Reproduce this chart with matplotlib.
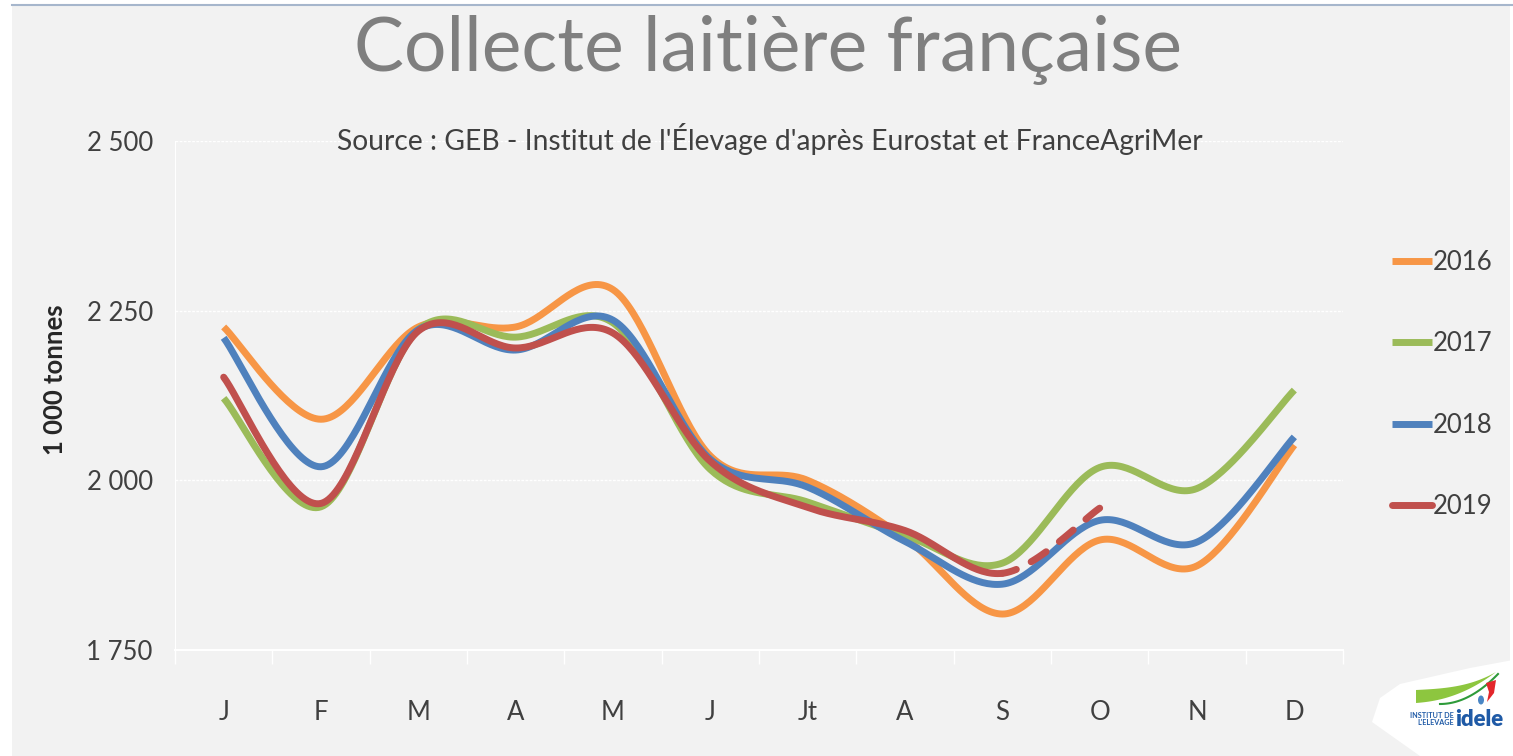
import numpy as np
import matplotlib
matplotlib.use("Agg")
import matplotlib.pyplot as plt
from matplotlib.patches import Rectangle, Polygon, Ellipse

# ---- data ----
months = ["J", "F", "M", "A", "M", "J", "Jt", "A", "S", "O", "N", "D"]
y2016 = [2226, 2090, 2226, 2226, 2281, 2036, 2000, 1915, 1803, 1912, 1874, 2052]
y2017 = [2121, 1961, 2222, 2211, 2232, 2016, 1968, 1919, 1878, 2019, 1988, 2133]
y2018 = [2210, 2020, 2222, 2192, 2236, 2031, 1990, 1910, 1847, 1941, 1909, 2064]
y2019 = [2152, 1966, 2220, 2195, 2217, 2028, 1960, 1926, 1863, 1959]
yticks = [1750, 2000, 2250, 2500]
ytick_labels = ["1 750", "2 000", "2 250", "2 500"]

colors = {"2016": "#F79646", "2017": "#9BBB59", "2018": "#4F81BD", "2019": "#C0504D"}
BG = "#F2F2F2"
W, H = 1513, 756


def smooth(xs, ys, n=40):
    """Catmull-Rom spline (Excel-style smoothed line)."""
    xs = np.asarray(xs, float)
    ys = np.asarray(ys, float)
    px, py = [], []
    for i in range(len(xs) - 1):
        p0 = (xs[i - 1] if i > 0 else xs[i], ys[i - 1] if i > 0 else ys[i])
        p1 = (xs[i], ys[i])
        p2 = (xs[i + 1], ys[i + 1])
        p3 = (xs[i + 2], ys[i + 2]) if i + 2 < len(xs) else p2
        c1 = (p1[0] + (p2[0] - p0[0]) / 6, p1[1] + (p2[1] - p0[1]) / 6)
        c2 = (p2[0] - (p3[0] - p1[0]) / 6, p2[1] - (p3[1] - p1[1]) / 6)
        t = np.linspace(0, 1, n)
        bx = (1 - t) ** 3 * p1[0] + 3 * (1 - t) ** 2 * t * c1[0] + 3 * (1 - t) * t ** 2 * c2[0] + t ** 3 * p2[0]
        by = (1 - t) ** 3 * p1[1] + 3 * (1 - t) ** 2 * t * c1[1] + 3 * (1 - t) * t ** 2 * c2[1] + t ** 3 * p2[1]
        if i > 0:
            bx, by = bx[1:], by[1:]
        px.append(bx)
        py.append(by)
    return np.concatenate(px), np.concatenate(py)


def fx(px):
    return px / W


def fy(py):
    return 1 - py / H


plt.rcParams["font.family"] = ["Lato", "DejaVu Sans"]
fig = plt.figure(figsize=(15.13, 7.56), dpi=100)
fig.patch.set_facecolor("white")
fig.patches.append(Rectangle((fx(12), 0), fx(1510 - 12), 1 - 6 / H,
                             transform=fig.transFigure, facecolor=BG, edgecolor="none", zorder=-10))
fig.lines.append(plt.Line2D([fx(12), 1], [fy(5), fy(5)], transform=fig.transFigure,
                            color="#A6B6CC", lw=1.5))

ax = fig.add_axes([fx(175), fy(650), fx(1343 - 175), (650 - 141) / H])
ax.set_facecolor(BG)
ax.patch.set_alpha(0)

x = np.arange(len(months))
lw = 5
for name, ys in [("2016", y2016), ("2017", y2017), ("2018", y2018)]:
    sx, sy = smooth(x[:len(ys)], ys)
    ax.plot(sx, sy, color=colors[name], lw=lw, solid_capstyle="butt", label=name, zorder=3)

sx, sy = smooth(x[:len(y2019)], y2019)
cut = (len(y2019) - 2) * 39
ax.plot(sx[:cut + 1], sy[:cut + 1], color=colors["2019"], lw=lw, solid_capstyle="round", zorder=4, label="2019")
ax.plot(sx[cut:], sy[cut:], color=colors["2019"], lw=lw, dash_capstyle="round",
        linestyle=(0.5, (2.6, 2.4)), zorder=4)

ax.set_xlim(-0.5, 11.5)
ax.set_ylim(1750, 2500)
ax.set_yticks(yticks)
ax.set_yticklabels(ytick_labels)
ax.set_xticks(x)
ax.set_xticklabels(months)
ax.set_xticks(np.arange(-0.5, 12, 1), minor=True)
ax.tick_params(axis="x", which="major", length=0, pad=36, labelsize=18.5, labelcolor="#404040")
ax.tick_params(axis="x", which="minor", length=10, color="white", width=1)
ax.tick_params(axis="y", length=0, pad=16, labelsize=18.5, labelcolor="#404040")
for yv in yticks[1:]:
    ax.axhline(yv, color="white", lw=1, linestyle=(0, (2, 1)), zorder=1)
for s in ["top", "right"]:
    ax.spines[s].set_visible(False)
ax.spines["left"].set_color("white")
ax.spines["bottom"].set_color("white")
ax.spines["bottom"].set_linewidth(1.5)

fig.text(fx(55), fy(380), "1 000 tonnes", rotation=90, ha="center", va="center",
         fontsize=18.5, fontweight="bold", color="#262626")

fig.text(fx(768), fy(50), "Collecte laitière française", ha="center", va="center",
         fontsize=54, color="#7F7F7F", fontweight="normal")
fig.text(fx(770), fy(139), "Source : GEB - Institut de l'Élevage d'après Eurostat et FranceAgriMer",
         ha="center", va="center", fontsize=20.3, color="#404040")

leg = ax.legend(loc="center left", bbox_to_anchor=(1.022, 0.522), frameon=False, fontsize=18.5,
                labelcolor="#404040", handlelength=1.55, handletextpad=0.05, labelspacing=2.2)
for line in leg.get_lines():
    line.set_linewidth(5)
    line.set_linestyle("-")

# logo
fig.patches.append(Polygon([[fx(1372), fy(722)], [fx(1380), fy(698)], [fx(1400), fy(684)],
                            [fx(1470), fy(668)], [fx(1513), fy(660)], [fx(1513), 0],
                            [fx(1420), 0]],
                           closed=True, transform=fig.transFigure, facecolor="white", edgecolor="none",
                           zorder=5))
tt = np.linspace(0, 1, 40)
fig.patches.append(Polygon(np.column_stack([fx(np.concatenate([1416 + 80 * tt, (1416 + 80 * tt)[::-1]])),
                                            fy(np.concatenate([690 - 4 * tt - 14 * tt ** 3,
                                                               (703 - 6 * tt - 25 * tt ** 2.2)[::-1]]))]),
                           closed=True, transform=fig.transFigure, facecolor="#8DC63F", edgecolor="none",
                           zorder=6))
fig.lines.append(plt.Line2D(fx(1440 + 58 * tt), fy(704 - 30 * tt ** 2),
                            transform=fig.transFigure, color="#2E9B3A", lw=1.5, zorder=7))
fig.patches.append(Ellipse((fx(1481), fy(700)), fx(6), 9 / H, transform=fig.transFigure,
                           facecolor="#4A86C5", edgecolor="none", zorder=7))
fig.patches.append(Polygon([[fx(1486), fy(683)], [fx(1496), fy(680)], [fx(1494), fy(693)], [fx(1487), fy(702)],
                            [fx(1489), fy(692)]], closed=True, transform=fig.transFigure,
                           facecolor="#E3262B", edgecolor="none", zorder=7))
fig.text(fx(1454), fy(719), "INSTITUT DE\nL'ELEVAGE", ha="right", va="center", fontsize=5.2,
         color="#1F5AA6", fontweight="bold", linespacing=1.1, zorder=7)
fig.text(fx(1455), fy(719), "idele", ha="left", va="center", fontsize=16, color="#1F5AA6",
         fontweight="heavy", zorder=7)

fig.savefig("out.png", dpi=100, facecolor=fig.get_facecolor())
